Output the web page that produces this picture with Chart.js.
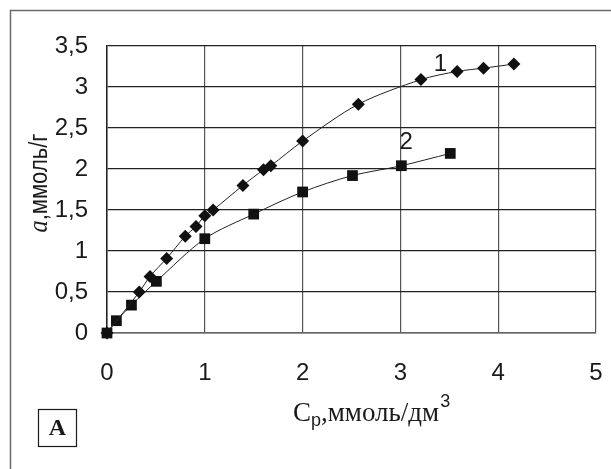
<!DOCTYPE html>
<html>
<head>
<meta charset="utf-8">
<script src="https://cdn.jsdelivr.net/npm/chart.js@4.4.1/dist/chart.umd.min.js"></script>
<style>
  html, body { margin: 0; padding: 0; background: #fff; overflow: hidden; }
  canvas { display: block; }
</style>
</head>
<body>
<canvas id="chart" width="611" height="469"></canvas>
<script>
// curve 1 (diamonds)
const cp1 = [0, 0.33, 0.44, 0.61, 0.80, 0.91, 1.0, 1.085, 1.39, 1.60, 1.675, 2.0, 2.57, 3.21, 3.58, 3.85, 4.16];
const a1 = [0, 0.50, 0.69, 0.91, 1.18, 1.30, 1.43, 1.50, 1.80, 1.99, 2.04, 2.34, 2.79, 3.09, 3.19, 3.23, 3.28];
// curve 2 (squares)
const cp2 = [0, 0.096, 0.25, 0.505, 1.0, 1.5, 2.0, 2.51, 3.01, 3.51];
const a2 = [0, 0.15, 0.34, 0.63, 1.15, 1.45, 1.72, 1.92, 2.04, 2.19];

const xTicks = [0, 1, 2, 3, 4, 5];
const yTicks = [0, 0.5, 1, 1.5, 2, 2.5, 3, 3.5];

// curve numbers placed in data coordinates
const curveLabels = ['1', '2'];
const curveLabelX = [3.41, 3.06];
const curveLabelY = [3.27, 2.33];

const fmt = v => String(v).replace('.', ',');

const decor = {
  id: 'decor',
  beforeDraw(chart) {
    const ctx = chart.ctx;
    ctx.save();
    ctx.strokeStyle = '#6a6a6a';
    ctx.lineWidth = 1.5;
    ctx.beginPath();
    ctx.moveTo(10.5, 475);
    ctx.lineTo(10.5, 10.5);
    ctx.lineTo(620, 10.5);
    ctx.stroke();
    ctx.restore();
  },
  afterDraw(chart) {
    const ctx = chart.ctx;
    const xs = chart.scales.x, ys = chart.scales.y;
    ctx.save();
    ctx.fillStyle = '#1a1a1a';

    // curve numbers
    ctx.font = '24px "Liberation Sans", Arial, sans-serif';
    ctx.textAlign = 'center';
    ctx.textBaseline = 'middle';
    curveLabels.forEach((t, i) => {
      ctx.fillText(t, xs.getPixelForValue(curveLabelX[i]), ys.getPixelForValue(curveLabelY[i]));
    });

    // y axis title, rotated
    ctx.save();
    ctx.translate(47, 183);
    ctx.rotate(-Math.PI / 2);
    ctx.scale(1.05, 1.2);
    ctx.textBaseline = 'alphabetic';
    ctx.textAlign = 'left';
    const partA = 'a';
    const partB = ',ммоль/г';
    ctx.font = 'italic 23px "Liberation Serif", "Times New Roman", serif';
    const wA = ctx.measureText(partA).width;
    ctx.font = '21px "Liberation Sans", Arial, sans-serif';
    const wB = ctx.measureText(partB).width;
    let x0 = -(wA + wB) / 2;
    ctx.font = 'italic 23px "Liberation Serif", "Times New Roman", serif';
    ctx.fillText(partA, x0, 0);
    ctx.font = '21px "Liberation Sans", Arial, sans-serif';
    ctx.fillText(partB, x0 + wA, 0);
    ctx.restore();

    // x axis title: C_p,ммоль/дм^3
    ctx.textAlign = 'left';
    ctx.textBaseline = 'alphabetic';
    let x = 293, base = 421;
    ctx.font = '27px "Liberation Serif", "Times New Roman", serif';
    ctx.fillText('C', x, base);
    x += ctx.measureText('C').width;
    ctx.font = '18px "Liberation Sans", Arial, sans-serif';
    ctx.fillText('p', x, base + 5);
    x += ctx.measureText('p').width;
    ctx.font = '27px "Liberation Serif", "Times New Roman", serif';
    ctx.fillText(',ммоль/дм', x, base);
    x += ctx.measureText(',ммоль/дм').width;
    ctx.font = '18px "Liberation Sans", Arial, sans-serif';
    ctx.fillText('3', x + 1, base - 14);

    // boxed "A"
    ctx.strokeStyle = '#1a1a1a';
    ctx.lineWidth = 1.2;
    ctx.strokeRect(38.5, 409.5, 38, 37);
    ctx.font = 'bold 24px "Liberation Serif", "Times New Roman", serif';
    ctx.textAlign = 'center';
    ctx.textBaseline = 'middle';
    ctx.fillText('A', 57.5, 429);
    ctx.restore();
  }
};

new Chart(document.getElementById('chart'), {
  type: 'scatter',
  data: {
    datasets: [
      {
        label: '1',
        data: cp1.map((v, i) => ({ x: v, y: a1[i] })),
        showLine: true,
        clip: false,
        borderColor: '#222',
        borderWidth: 1,
        tension: 0.3,
        pointStyle: 'rectRot',
        pointRadius: 6.5,
        pointBackgroundColor: '#111',
        pointBorderColor: '#111',
        pointBorderWidth: 0,
      },
      {
        label: '2',
        data: cp2.map((v, i) => ({ x: v, y: a2[i] })),
        showLine: true,
        clip: false,
        borderColor: '#222',
        borderWidth: 1,
        tension: 0.3,
        pointStyle: 'rect',
        pointRadius: 7.6,
        pointBackgroundColor: '#111',
        pointBorderColor: '#111',
        pointBorderWidth: 0,
      },
    ],
  },
  options: {
    responsive: false,
    animation: false,
    devicePixelRatio: 1,
    layout: { padding: { top: 46, right: 15, left: 0, bottom: 0 } },
    plugins: {
      legend: { display: false },
      tooltip: { enabled: false },
    },
    scales: {
      x: {
        type: 'linear',
        min: 0,
        max: 5,
        afterFit: s => { s.height = 136; s.paddingLeft = 0; s.paddingRight = 0; },
        afterBuildTicks: s => { s.ticks = xTicks.map(v => ({ value: v })); },
        grid: { color: '#555', lineWidth: 1.2, drawTicks: false },
        border: { color: '#666', width: 1.5 },
        ticks: {
          padding: 26,
          color: '#1a1a1a',
          font: { family: '"Liberation Sans", Arial, sans-serif', size: 24 },
          callback: v => fmt(v),
        },
      },
      y: {
        type: 'linear',
        min: 0,
        max: 3.5,
        afterFit: s => { s.width = 107; s.paddingTop = 0; s.paddingBottom = 0; },
        afterBuildTicks: s => { s.ticks = yTicks.map(v => ({ value: v })); },
        grid: { color: '#222', lineWidth: 1.3, drawTicks: false },
        border: { color: '#222', width: 1.5 },
        ticks: {
          padding: 19,
          color: '#1a1a1a',
          font: { family: '"Liberation Sans", Arial, sans-serif', size: 24 },
          callback: v => fmt(v),
        },
      },
    },
  },
  plugins: [decor],
});
</script>
</body>
</html>
